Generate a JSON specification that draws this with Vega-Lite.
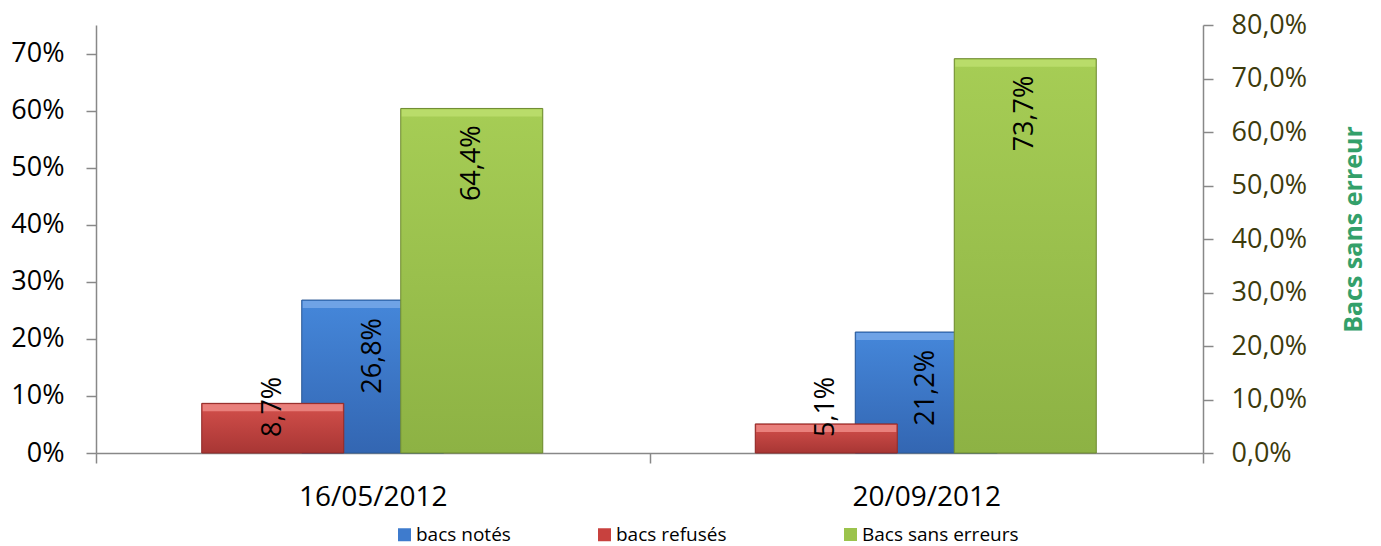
{
  "$schema": "https://vega.github.io/schema/vega-lite/v6.json",
  "width": 1107,
  "height": 428,
  "autosize": {"type": "none"},
  "padding": {"left": 96, "top": 25, "right": 178, "bottom": 93},
  "background": "white",
  "config": {
    "view": {"stroke": null},
    "font": "Open Sans",
    "locale": {"number": {"decimal": ",", "thousands": " ", "grouping": [3], "currency": ["", " €"]}},
    "legend": {"orient": "none", "legendY": 500, "direction": "horizontal", "title": null,
      "symbolType": "square", "symbolSize": 169, "symbolStrokeWidth": 0, "labelFontSize": 19, "labelFont": "Open Sans",
      "labelColor": "#000000", "labelOffset": 2, "columnPadding": 84, "padding": 0, "labelLimit": 400}
  },
  "data": {
    "values": [
      {"date": "16/05/2012", "serie": "bacs notés", "v": 0.268},
      {"date": "16/05/2012", "serie": "bacs refusés", "v": 0.087},
      {"date": "16/05/2012", "serie": "Bacs sans erreurs", "v": 0.644},
      {"date": "20/09/2012", "serie": "bacs notés", "v": 0.212},
      {"date": "20/09/2012", "serie": "bacs refusés", "v": 0.051},
      {"date": "20/09/2012", "serie": "Bacs sans erreurs", "v": 0.737}
    ]
  },
  "encoding": {
    "x": {
      "field": "date", "type": "nominal", "sort": null,
      "scale": {"paddingInner": 0, "paddingOuter": 0},
      "axis": {"title": null, "labelAngle": 0, "tickBand": "extent", "tickSize": 10, "labelPadding": 20,
        "labelFontSize": 28, "labelFont": "Open Sans", "labelColor": "#000000",
        "domainColor": "#888888", "tickColor": "#888888", "domainWidth": 1.5, "tickWidth": 1.5}
    }
  },
  "layer": [
    {
      "encoding": {
        "y": {"field": "v", "type": "quantitative", "scale": {"domain": [0, 0.75], "nice": false},
          "axis": {"orient": "left", "title": null, "grid": false, "values": [0, 0.1, 0.2, 0.3, 0.4, 0.5, 0.6, 0.7],
            "format": ".0%", "tickSize": 10, "labelPadding": 22, "labelFontSize": 27, "labelFont": "Open Sans",
            "labelColor": "#000000", "domainColor": "#888888", "tickColor": "#888888", "domainWidth": 1.5, "tickWidth": 1.5}}
      },
      "layer": [
        {
          "transform": [{"filter": "datum.serie == 'bacs notés'"}],
          "mark": {"type": "bar", "width": 142, "xOffset": 0},
          "encoding": {"color": {"field": "serie", "type": "nominal",
            "scale": {"domain": ["bacs notés", "bacs refusés"], "range": ["#3E7BCD", "#C8413E"]},
            "legend": {"legendX": 299}}}
        },
        {
          "transform": [{"filter": "datum.serie == 'bacs notés'"}],
          "mark": {"type": "bar", "width": 142, "xOffset": 0, "stroke": "#2D5A96", "strokeWidth": 1,
            "fill": {"gradient": "linear", "x1": 0, "y1": 0, "x2": 0, "y2": 1,
              "stops": [{"offset": 0, "color": "#4587DA"}, {"offset": 1, "color": "#3366B2"}]}}
        },
        {
          "transform": [{"filter": "datum.serie == 'bacs notés'"}],
          "mark": {"type": "tick", "size": 140, "thickness": 7, "yOffset": 4.5, "xOffset": 0, "color": "#6FA3E6", "opacity": 1}
        },
        {
          "transform": [{"filter": "datum.serie == 'bacs refusés'"}],
          "mark": {"type": "bar", "width": 142, "xOffset": -100},
          "encoding": {"color": {"field": "serie", "type": "nominal",
            "scale": {"domain": ["bacs notés", "bacs refusés"], "range": ["#3E7BCD", "#C8413E"]},
            "legend": {"legendX": 299}}}
        },
        {
          "transform": [{"filter": "datum.serie == 'bacs refusés'"}],
          "mark": {"type": "bar", "width": 142, "xOffset": -100, "stroke": "#8E2B28", "strokeWidth": 1,
            "fill": {"gradient": "linear", "x1": 0, "y1": 0, "x2": 0, "y2": 1,
              "stops": [{"offset": 0, "color": "#D4504C"}, {"offset": 1, "color": "#A83634"}]}}
        },
        {
          "transform": [{"filter": "datum.serie == 'bacs refusés'"}],
          "mark": {"type": "tick", "size": 140, "thickness": 7, "yOffset": 4.5, "xOffset": -100, "color": "#E9807C", "opacity": 1}
        },
        {
          "transform": [{"filter": "datum.serie == 'bacs notés'"}],
          "mark": {"type": "text", "angle": 270, "align": "right", "baseline": "middle", "dx": -18, "xOffset": 0,
            "fontSize": 27, "font": "Open Sans", "color": "#000000"},
          "encoding": {"text": {"field": "v", "type": "quantitative", "format": ".1%"}}
        },
        {
          "transform": [{"filter": "datum.serie == 'bacs refusés'"}],
          "mark": {"type": "text", "angle": 270, "align": "left", "baseline": "middle", "dx": 16, "xOffset": -100,
            "fontSize": 27, "font": "Open Sans", "color": "#000000"},
          "encoding": {
            "y": {"datum": 0, "type": "quantitative"},
            "text": {"field": "v", "type": "quantitative", "format": ".1%"}
          }
        }
      ]
    },
    {
      "encoding": {
        "y": {"field": "v", "type": "quantitative", "scale": {"domain": [0, 0.8], "nice": false},
          "axis": {"orient": "right", "grid": false, "values": [0, 0.1, 0.2, 0.3, 0.4, 0.5, 0.6, 0.7, 0.8],
            "format": ".1%", "tickSize": 10, "labelPadding": 18, "labelFontSize": 27, "labelFont": "Open Sans",
            "labelColor": "#3D3B0C", "domainColor": "#888888", "tickColor": "#888888", "domainWidth": 1.5, "tickWidth": 1.5,
            "title": "Bacs sans erreur", "titleAngle": 270, "titleX": 150, "titleY": 204, "titleAlign": "center",
            "titleBaseline": "middle", "titleFontSize": 25, "titleFontWeight": "bold", "titleFont": "Open Sans", "titleColor": "#33A06A"}}
      },
      "layer": [
        {
          "transform": [{"filter": "datum.serie == 'Bacs sans erreurs'"}],
          "mark": {"type": "bar", "width": 142, "xOffset": 99},
          "encoding": {"fill": {"field": "serie", "type": "nominal",
            "scale": {"domain": ["Bacs sans erreurs"], "range": ["#9BC34C"]},
            "legend": {"legendX": 745}}}
        },
        {
          "transform": [{"filter": "datum.serie == 'Bacs sans erreurs'"}],
          "mark": {"type": "bar", "width": 142, "xOffset": 99, "stroke": "#6F8A33", "strokeWidth": 1,
            "fill": {"gradient": "linear", "x1": 0, "y1": 0, "x2": 0, "y2": 1,
              "stops": [{"offset": 0, "color": "#A6CD55"}, {"offset": 1, "color": "#8DB244"}]}}
        },
        {
          "transform": [{"filter": "datum.serie == 'Bacs sans erreurs'"}],
          "mark": {"type": "tick", "size": 140, "thickness": 7, "yOffset": 4.5, "xOffset": 99, "color": "#B9DC6A", "opacity": 1}
        },
        {
          "transform": [{"filter": "datum.serie == 'Bacs sans erreurs'"}],
          "mark": {"type": "text", "angle": 270, "align": "right", "baseline": "middle", "dx": -17, "xOffset": 99,
            "fontSize": 27, "font": "Open Sans", "color": "#000000"},
          "encoding": {"text": {"field": "v", "type": "quantitative", "format": ".1%"}}
        }
      ]
    }
  ],
  "resolve": {"scale": {"y": "independent"}}
}
